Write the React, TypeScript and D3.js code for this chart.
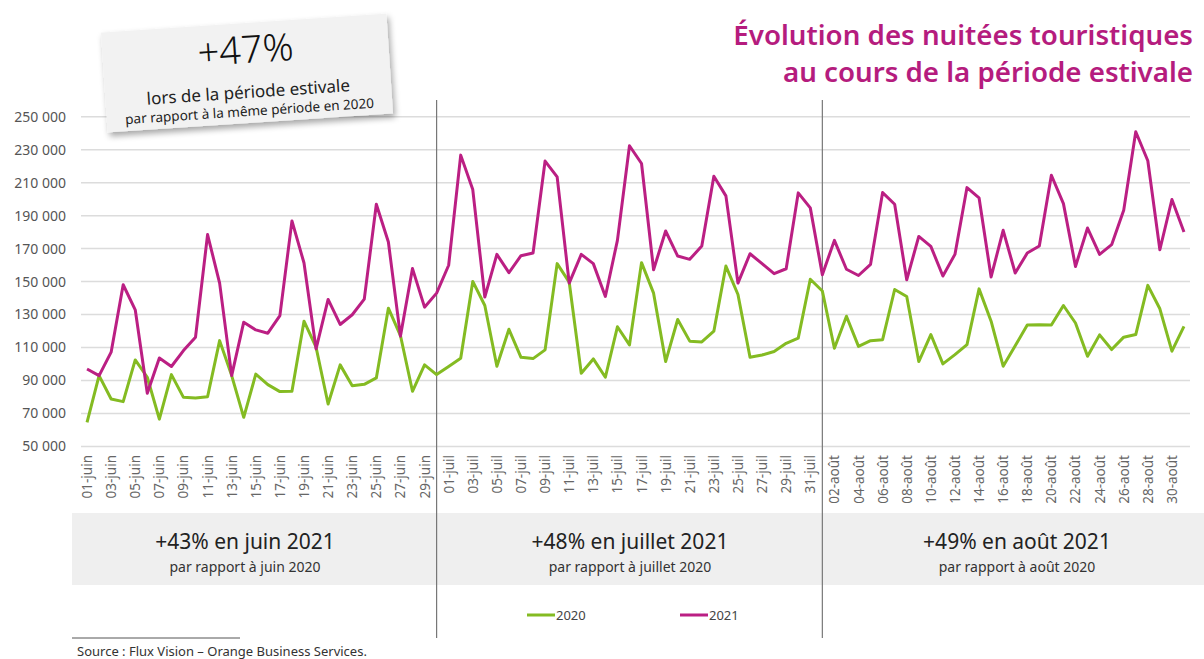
import { FC } from 'react'
import * as d3 from 'd3'

// nuitées par jour, 1er juin -> 31 août
const values2020 = [
  64600, 93000, 78800, 77200, 102500, 92000, 66600, 93600, 79800, 79400,
  80200, 114200, 93000, 67700, 93900, 87500, 83300, 83500, 126000, 110200,
  75800, 99500, 86900, 87700, 91600, 133900, 117300, 83500, 99500, 93600,
  98500, 103500, 150100, 135500, 98700, 121100, 104100, 103300, 108600, 160900,
  149700, 94400, 103100, 92000, 122600, 111600, 161500, 143000, 101500, 127000,
  113900, 113400, 119900, 159400, 142200, 104100, 105500, 107600, 112600, 115700,
  151400, 144300, 109600, 129000, 110700, 114200, 114800, 145200, 141000, 101500,
  117900, 100100, 105700, 111800, 145600, 126000, 98700, 111100, 123700, 123900,
  123700, 135500, 124900, 104700, 117700, 108800, 116300, 117900, 147700, 133500,
  107800, 122900,
]

const values2021 = [
  97000, 93000, 107200, 148100, 132900, 82300, 103700, 98500, 108200, 116300,
  178500, 149100, 93000, 125400, 120700, 118700, 129400, 186800, 161300, 109200,
  139200, 124000, 129900, 139400, 196900, 174000, 116900, 157900, 134500, 143000,
  159900, 226700, 205800, 140600, 166500, 155400, 165700, 167300, 223100, 213500,
  149100, 166500, 160900, 141000, 175000, 232400, 221600, 157200, 180700, 165500,
  163500, 171600, 213900, 202000, 149100, 166900, 160900, 154800, 157800, 203800,
  194700, 154200, 175000, 157500, 153700, 160500, 204000, 196900, 151100, 177400,
  171400, 153400, 166500, 207000, 200800, 152800, 181100, 155200, 167300, 171600,
  214500, 197300, 159200, 182500, 166500, 172400, 193200, 240900, 223300, 169300,
  199800, 180100,
]

const months = ['juin', 'juil', 'août']
const monthDays = [30, 31, 31]
const yTicks = [50000, 70000, 90000, 110000, 130000, 150000, 170000, 190000, 210000, 230000, 250000]

const monthBlocks = [
  { title: '+43% en juin 2021', sub: 'par rapport à juin 2020' },
  { title: '+48% en juillet 2021', sub: 'par rapport à juillet 2020' },
  { title: '+49% en août 2021', sub: 'par rapport à août 2020' },
]

const days: string[] = []
months.forEach((m, mi) => {
  for (let d = 1; d <= monthDays[mi]; d++) days.push(`${String(d).padStart(2, '0')}-${m}`)
})

const GREEN = '#84bb22'
const MAGENTA = '#bb1f83'
const FONT = '"Noto Sans", "Open Sans", sans-serif'

const App: FC = () => {
  const width = 1204
  const height = 659

  const x = d3.scaleBand<number>()
    .domain(days.map((_, i) => i))
    .range([81, 1190])
    .padding(0)
  const cx = (i: number) => (x(i) || 0) + x.bandwidth() / 2

  const y = d3.scaleLinear().domain([50000, 250000]).range([446.5, 116.7])

  const line = d3.line<number>()
    .x((_, i) => cx(i))
    .y(d => y(d))

  const fmt = (v: number) => d3.format(',')(v).replace(/,/g, ' ')

  // separators: end of June / start of August
  const sepX = [cx(29), cx(61)]
  const blockCenters = [245, 630, 1017]

  return (
    <svg width={width} height={height} style={{ position: 'absolute', left: 0, top: 0, fontFamily: FONT }}>
      <defs>
        <filter id="shadow" x="-10%" y="-20%" width="130%" height="150%">
          <feDropShadow dx="2" dy="4" stdDeviation="3" floodColor="#000" floodOpacity="0.35" />
        </filter>
      </defs>
      <rect width={width} height={height} fill="#fff" />

      {/* gridlines */}
      {yTicks.map(t => (
        <line key={t} x1={81} x2={1190} y1={y(t)} y2={y(t)} stroke="#dcdcdc" strokeWidth={1.5} />
      ))}
      {yTicks.map(t => (
        <text key={'l' + t} x={66} y={y(t)} dy="0.35em" textAnchor="end" fontSize={14} fill="#555">
          {fmt(t)}
        </text>
      ))}

      {/* x labels, every other day */}
      {days.map((d, i) => i % 2 === 0 ? (
        <text key={d} transform={`translate(${cx(i) + 5},455) rotate(-90)`} textAnchor="end"
          fontSize={13.5} fill="#666">{d}</text>
      ) : null)}

      {/* month boxes */}
      <rect x={72} y={513} width={width - 72} height={72} fill="#efefef" />
      {monthBlocks.map((b, i) => (
        <g key={b.title}>
          <text x={blockCenters[i]} y={549} textAnchor="middle" fontSize={21} fill="#222">{b.title}</text>
          <text x={blockCenters[i]} y={572} textAnchor="middle" fontSize={14} fill="#333">{b.sub}</text>
        </g>
      ))}

      {sepX.map(s => (
        <line key={s} x1={s} x2={s} y1={100} y2={638} stroke="#777" strokeWidth={1.2} />
      ))}

      <path d={line(values2020) || ''} fill="none" stroke={GREEN} strokeWidth={3} strokeLinejoin="round" />
      <path d={line(values2021) || ''} fill="none" stroke={MAGENTA} strokeWidth={3} strokeLinejoin="round" />

      {/* legend */}
      <line x1={527} x2={555} y1={615} y2={615} stroke={GREEN} strokeWidth={3} />
      <text x={556} y={620} fontSize={13} fill="#444">2020</text>
      <line x1={680} x2={708} y1={615} y2={615} stroke={MAGENTA} strokeWidth={3} />
      <text x={709} y={620} fontSize={13} fill="#444">2021</text>

      {/* title */}
      <text x={1193} y={45} textAnchor="end" fontSize={27.7} fontWeight={600} fill="#b51c7e">
        Évolution des nuitées touristiques
      </text>
      <text x={1193} y={82} textAnchor="end" fontSize={27.7} fontWeight={600} fill="#b51c7e">
        au cours de la période estivale
      </text>

      {/* highlight box */}
      <g transform="translate(247,73) rotate(-3.8)">
        <rect x={-143} y={-50} width={286} height={100} fill="#f2f2f2" filter="url(#shadow)" />
        <text x={0} y={-10} textAnchor="middle" fontSize={38} fontWeight={300} fill="#111">+47%</text>
        <text x={0} y={25} textAnchor="middle" fontSize={17} fill="#222">lors de la période estivale</text>
        <text x={0} y={43} textAnchor="middle" fontSize={13.5} fill="#222">par rapport à la même période en 2020</text>
      </g>

      {/* source */}
      <line x1={72} x2={240} y1={638} y2={638} stroke="#555" strokeWidth={1} />
      <text x={77} y={656} fontSize={13} fill="#333">Source : Flux Vision – Orange Business Services.</text>
    </svg>
  )
}

export default App
